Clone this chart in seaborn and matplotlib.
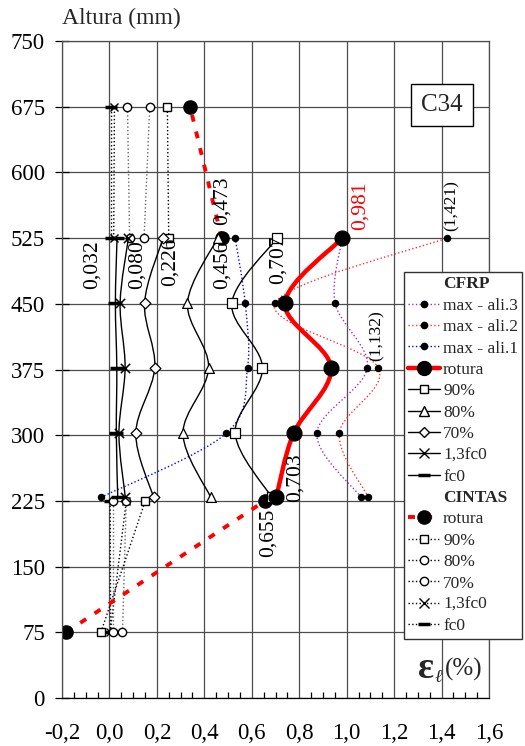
import numpy as np
import matplotlib
matplotlib.use('Agg')
import matplotlib.pyplot as plt
from matplotlib.path import Path
from matplotlib.patches import PathPatch
from matplotlib.lines import Line2D
import seaborn as sns

# Alturas dos extensómetros (mm)
alturas_cfrp = [229, 302, 377, 451, 525]
alturas_cintas = [75, 225, 525, 675]

# Extensões no CFRP (%), de baixo para cima
cfrp_max_ali3 = [1.061, 0.874, 1.087, 0.951, 0.981]
cfrp_max_ali2 = [1.092, 0.969, 1.133, 0.698, 1.421]
cfrp_max_ali1 = [-0.036, 0.492, 0.582, 0.572, 0.530]
cfrp_rotura = [0.703, 0.776, 0.934, 0.740, 0.981]
cfrp_90 = [0.684, 0.530, 0.645, 0.516, 0.707]
cfrp_80 = [0.427, 0.310, 0.418, 0.329, 0.456]
cfrp_70 = [0.186, 0.111, 0.191, 0.148, 0.226]
cfrp_13fc0 = [0.067, 0.040, 0.066, 0.045, 0.080]
cfrp_fc0 = [0.035, 0.029, 0.031, 0.025, 0.032]

# Extensões nas cintas (%), alturas 75, 225, 525, 675
cintas_rotura = [-0.183, 0.655, 0.473, 0.340]
cintas_90 = [-0.036, 0.151, 0.250, 0.244]
cintas_80 = [0.055, 0.071, 0.146, 0.170]
cintas_70 = [0.015, 0.015, 0.085, 0.076]
cintas_13fc0 = [0.003, 0.071, 0.018, 0.021]
cintas_fc0 = [0.005, 0.003, 0.005, 0.005]

ticks_x = [-0.2, 0.0, 0.2, 0.4, 0.6, 0.8, 1.0, 1.2, 1.4, 1.6]
rotulos_x = ['-0,2', '0,0', '0,2', '0,4', '0,6', '0,8', '1,0', '1,2', '1,4', '1,6']
ticks_y = [0, 75, 150, 225, 300, 375, 450, 525, 600, 675, 750]

ROXO = '#9932CC'
VERMELHO = '#FF0000'
AZUL = '#0000FF'


def curva_suave(xs, ys):
    # curva tipo Excel "suavizada" (Catmull-Rom em Bezier)
    pts = np.column_stack([xs, ys]).astype(float)
    n = len(pts)
    verts = [pts[0]]
    codes = [Path.MOVETO]
    for i in range(n - 1):
        p0 = pts[i - 1] if i > 0 else pts[i]
        p1 = pts[i]
        p2 = pts[i + 1]
        p3 = pts[i + 2] if i + 2 < n else pts[i + 1]
        verts += [p1 + (p2 - p0) / 6, p2 - (p3 - p1) / 6, p2]
        codes += [Path.CURVE4] * 3
    return Path(verts, codes)


sns.set_style('white')
plt.rcParams['font.family'] = ['Liberation Serif', 'DejaVu Serif']
plt.rcParams['font.size'] = 16

fig = plt.figure(figsize=(5.25, 7.46), dpi=100)
ax = fig.add_axes([62 / 525, 48 / 746, 427 / 525, 657 / 746])

# --- CFRP: curvas suavizadas ---
series_cfrp = [
    (cfrp_max_ali3, ROXO, 1.0, ':', 'o', 20, 'k'),
    (cfrp_max_ali2, '#FF3333', 1.0, ':', 'o', 20, 'k'),
    (cfrp_max_ali1, AZUL, 1.0, ':', 'o', 20, 'k'),
    (cfrp_fc0, 'k', 1.0, '-', '_', 90, 'k'),
    (cfrp_13fc0, 'k', 1.0, '-', 'x', 45, 'k'),
    (cfrp_70, 'k', 1.0, '-', 'D', 30, 'white'),
    (cfrp_80, 'k', 1.0, '-', '^', 50, 'white'),
    (cfrp_90, 'k', 1.0, '-', 's', 45, 'white'),
    (cfrp_rotura, VERMELHO, 3.2, '-', 'o', 115, 'k'),
]
for i, (vals, cor, lw, ls, mk, s, face) in enumerate(series_cfrp):
    z = 3 + i * 0.1
    ax.add_patch(PathPatch(curva_suave(vals, alturas_cfrp), fill=False,
                           edgecolor=cor, lw=lw, linestyle=ls, zorder=z))
    if mk in ('x', '_'):
        sns.scatterplot(x=vals, y=alturas_cfrp, marker=mk, s=s, color='k',
                        linewidth=2.5 if mk == '_' else 1.1, ax=ax, zorder=z + 2)
    else:
        sns.scatterplot(x=vals, y=alturas_cfrp, marker=mk, s=s, color=face,
                        edgecolor='k', linewidth=0.9, ax=ax, zorder=z + 2)

# --- Cintas: dois troços rectos (75-225 e 525-675) ---
series_cintas = [
    (cintas_fc0, 'k', ':', 1.0, '_', 8, 'k', 2.5),
    (cintas_13fc0, 'k', ':', 1.0, 'x', 6, 'k', 1.0),
    (cintas_70, '0.4', ':', 1.0, 'o', 6, 'white', 1.0),
    (cintas_80, '0.4', ':', 1.0, 'o', 6, 'white', 1.0),
    (cintas_90, 'k', ':', 1.0, 's', 6, 'white', 1.0),
    (cintas_rotura, VERMELHO, (0, (1.8, 2.6)), 2.8, 'o', 9.5, 'k', 1.0),
]
for vals, cor, ls, lw, mk, ms, face, mew in series_cintas:
    for sl in (slice(0, 2), slice(2, 4)):
        sns.lineplot(x=vals[sl], y=alturas_cintas[sl], sort=False, estimator=None,
                     color=cor, linestyle=ls, lw=lw, marker=mk, ms=ms,
                     mfc=face, mec='k', mew=mew, ax=ax, zorder=2.5)

ax.set_xlim(-0.2, 1.6)
ax.set_ylim(0, 750)
ax.set_xticks(ticks_x)
ax.set_xticklabels(rotulos_x)
ax.set_xticks(np.arange(-0.2, 1.601, 0.05), minor=True)
ax.set_yticks(ticks_y)
ax.set_xlabel('')
ax.set_ylabel('')
ax.set_axisbelow(True)
ax.grid(True, which='major', color='0.3', lw=0.9)
ax.tick_params(axis='x', which='major', direction='inout', length=9, width=0.9,
               pad=13.3, labelsize=16.5, colors='k')
ax.tick_params(axis='x', which='minor', direction='in', length=4, width=0.9,
               bottom=True, colors='k')
ax.tick_params(axis='y', which='major', direction='inout', length=9.5, width=0.9,
               pad=7.5, labelsize=16.5, left=True, colors='k')
for lado in ax.spines.values():
    lado.set_color('0.3')
    lado.set_linewidth(0.9)
ax.spines['bottom'].set_color('k')

# --- rótulos de valores ---
rotulos = [
    (-0.074, 495, '0,032', 'k', 15.5),
    (0.116, 495, '0,080', 'k', 15.5),
    (0.256, 498, '0,226', 'k', 15.5),
    (0.474, 494, '0,456', 'k', 15.5),
    (0.711, 500, '0,707', 'k', 15.5),
    (0.474, 568, '0,473', 'k', 15.5),
    (1.056, 562, '0,981', VERMELHO, 15.5),
    (1.443, 562, '(1,421)', 'k', 12.5),
    (1.127, 414, '(1,132)', 'k', 12.5),
    (0.783, 252, '0,703', 'k', 15.5),
    (0.670, 188, '0,655', 'k', 15.5),
]
for x, y, txt, cor, fs in rotulos:
    ax.text(x, y, txt, rotation=90, ha='center', va='center', color=cor,
            fontsize=fs, zorder=8)

# --- legenda ---
vazio = Line2D([], [], ls='none')
handles = [
    vazio,
    Line2D([], [], color=ROXO, ls=':', lw=1, marker='o', ms=4.5, mfc='k', mec='k'),
    Line2D([], [], color='#FF3333', ls=':', lw=1, marker='o', ms=4.5, mfc='k', mec='k'),
    Line2D([], [], color=AZUL, ls=':', lw=1, marker='o', ms=4.5, mfc='k', mec='k'),
    Line2D([], [], color=VERMELHO, lw=3.2, marker='o', ms=10, mfc='k', mec='k'),
    Line2D([], [], color='k', lw=1, marker='s', ms=6, mfc='white', mec='k'),
    Line2D([], [], color='k', lw=1, marker='^', ms=6.5, mfc='white', mec='k'),
    Line2D([], [], color='k', lw=1, marker='D', ms=5, mfc='white', mec='k'),
    Line2D([], [], color='k', lw=1, marker='x', ms=6.5, mec='k'),
    Line2D([], [], color='k', lw=1, marker='_', ms=9, mew=2.5, mec='k'),
    vazio,
    Line2D([], [], color=VERMELHO, ls=(0, (1.8, 2.6)), lw=2.8, marker='o', ms=9.5, mfc='k', mec='k'),
    Line2D([], [], color='k', ls=':', lw=1, marker='s', ms=6, mfc='white', mec='k'),
    Line2D([], [], color='k', ls=':', lw=1, marker='o', ms=6, mfc='white', mec='k'),
    Line2D([], [], color='k', ls=':', lw=1, marker='o', ms=6, mfc='white', mec='k'),
    Line2D([], [], color='k', ls=':', lw=1, marker='x', ms=6.5, mec='k'),
    Line2D([], [], color='k', ls=':', lw=1, marker='_', ms=9, mew=2.5, mec='k'),
]
nomes = ['CFRP', 'max - ali.3', 'max - ali.2', 'max - ali.1', 'rotura', '90%', '80%',
         '70%', '1,3fc0', 'fc0', 'CINTAS', 'rotura', '90%', '80%', '70%', '1,3fc0', 'fc0']
leg = ax.legend(handles, nomes, loc='upper left', bbox_to_anchor=(404 / 525, 1 - 272 / 746),
                bbox_transform=fig.transFigure, borderaxespad=0, fontsize=12.5,
                handlelength=1.85, handletextpad=0.15, labelspacing=0.3,
                borderpad=0.25, fancybox=False, framealpha=1, edgecolor='0.2')
leg.get_frame().set_linewidth(1.0)
leg.set_zorder(10)
for t in leg.get_texts():
    if t.get_text() in ('CFRP', 'CINTAS'):
        t.set_fontweight('bold')

# --- textos ---
fig.text(62 / 525, 1 - 18 / 746, 'Altura (mm)', ha='left', va='center', fontsize=17)
fig.text(442 / 525, 1 - 105 / 746, 'C34', ha='center', va='center', fontsize=18,
         bbox=dict(boxstyle='square,pad=0.4', fc='white', ec='k', lw=1.0))
fig.text(426 / 525, 1 - 669 / 746, 'ε', ha='center', va='center', fontsize=27,
         fontweight='bold')
fig.text(438 / 525, 1 - 677 / 746, 'ℓ', ha='center', va='center', fontsize=13,
         style='italic')
fig.text(464 / 525, 1 - 669 / 746, '(%)', ha='center', va='center', fontsize=18)

fig.savefig('out.png', dpi=100)
